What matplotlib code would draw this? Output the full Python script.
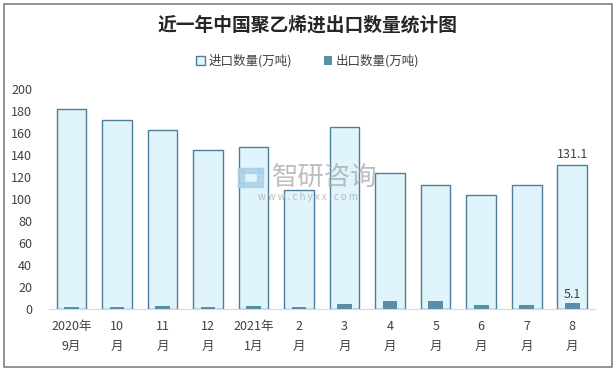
import matplotlib.pyplot as plt
from matplotlib.patches import Rectangle
import numpy as np

plt.rcParams['font.family'] = ['Noto Sans CJK SC', 'DejaVu Sans']

months = ["2020年\n9月", "10\n月", "11\n月", "12\n月", "2021年\n1月", "2\n月",
          "3\n月", "4\n月", "5\n月", "6\n月", "7\n月", "8\n月"]
imports = [181.8, 171.7, 162.6, 144.6, 147.3, 108.0, 165.4, 123.5, 112.6, 103.5, 112.6, 131.1]
exports = [1.8, 1.8, 2.6, 1.8, 2.6, 1.8, 4.5, 7.3, 7.3, 3.6, 3.6, 5.1]

fig = plt.figure(figsize=(6.16, 3.71), dpi=100)
ax = fig.add_axes([0.079, 0.168, 0.887, 0.591])

x = np.arange(len(months))
ax.bar(x, imports, width=0.65, color="#e0f4fb", edgecolor="#4d7f9a", linewidth=1,
       label="进口数量(万吨)", zorder=2)
ax.bar(x, exports, width=0.32, color="#5a8ea6", label="出口数量(万吨)", zorder=3)

# labels on the last month only
ax.text(x[-1], imports[-1] + 4, "%.1f" % imports[-1], ha="center", va="bottom",
        fontsize=9, color="#404040")
ax.text(x[-1], exports[-1] + 2, "%.1f" % exports[-1], ha="center", va="bottom",
        fontsize=9, color="#404040")

ax.set_xlim(-0.5, len(months) - 0.5)
ax.set_ylim(0, 200)
ax.set_yticks(range(0, 201, 20))
ax.set_xticks(x)
ax.set_xticklabels(months, fontsize=9, color="#404040", linespacing=1.7)
ax.tick_params(axis="y", labelsize=9, labelcolor="#404040", length=0, pad=12)
ax.tick_params(axis="x", length=0, pad=8)
for s in ["top", "right", "left"]:
    ax.spines[s].set_visible(False)
ax.spines["bottom"].set_color("#d9d9d9")

fig.text(0.5, 0.932, "近一年中国聚乙烯进出口数量统计图", ha="center", va="center",
         fontsize=13.5, fontweight="bold", color="#262626")
fig.legend(loc="center", bbox_to_anchor=(0.5, 0.835), ncol=2, frameon=False,
           fontsize=9, handlelength=0.7, handleheight=0.7, columnspacing=2.5,
           handletextpad=0.3, labelcolor="#404040")

# watermark
fig.text(0.527, 0.522, "智研咨询", ha="center", va="center", fontsize=19,
         color="#a8a8a8", alpha=0.75)
fig.text(0.5, 0.469, "w w w . c h y x x . c o m", ha="center", va="center",
         fontsize=7, color="#a8a8a8", alpha=0.75)
for rx, ry, rw, rh in [(0.387, 0.535, 0.040, 0.012), (0.387, 0.497, 0.040, 0.012),
                       (0.387, 0.497, 0.009, 0.050), (0.418, 0.510, 0.009, 0.037)]:
    fig.patches.append(Rectangle((rx, ry), rw, rh, transform=fig.transFigure,
                                 color="#a9cfe8", alpha=0.8, zorder=5))

fig.patches.append(Rectangle((0.007, 0.011), 0.986, 0.978, transform=fig.transFigure,
                             fill=False, edgecolor="#808080", linewidth=1.2))

fig.savefig("out.png", dpi=100)
